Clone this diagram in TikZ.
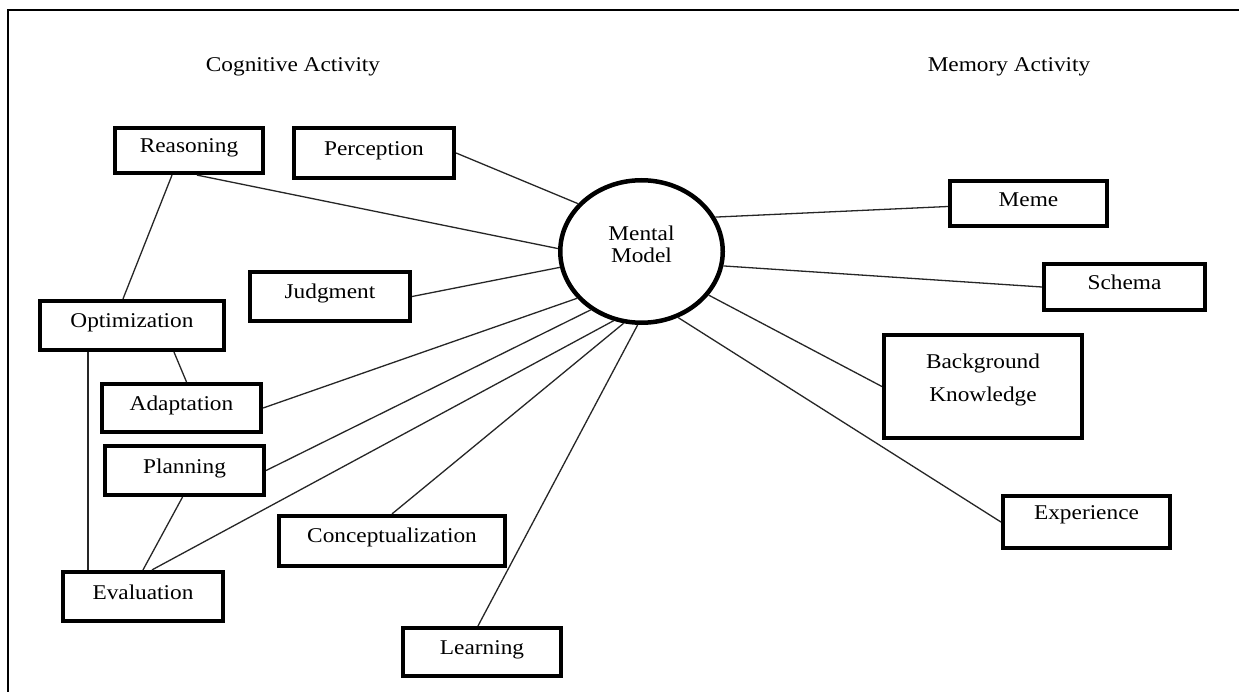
\documentclass[tikz,border=0pt]{standalone}
\usepackage{fontspec}
\setmainfont{Liberation Serif}[FakeStretch=1.11]
\usetikzlibrary{shapes.geometric}
\begin{document}
\begin{tikzpicture}[x=1pt,y=-1pt,
  every node/.style={font=\fontsize{21}{25}\selectfont},
  box/.style={draw, line width=4.2pt, inner sep=0pt, text height=14pt, text depth=9pt},
  link/.style={line width=1.3pt, black!85},
  frame/.style={line width=2.4pt},
  heading/.style={inner sep=0pt}]
\fill[white] (0,0) rectangle (1239,692);
\path[use as bounding box] (0,0) rectangle (1239,692);
\draw[frame] (8,692) -- (8,10) -- (1239,10);

\node[heading] (cog) at (293,67) {Cognitive Activity};
\node[heading] (mem) at (1009,67) {Memory Activity};

\node[ellipse, draw, line width=4.5pt, minimum width=162.5pt, minimum height=142.5pt, inner sep=0pt] (mm) at (641.5,251.5) {};
\node[align=center, font=\fontsize{21}{22}\selectfont, inner sep=0pt] (mmtext) at (641.5,244) {Mental\\Model};

\node[box, minimum width=148pt, minimum height=45pt] (reasoning) at (189,150.5) {Reasoning};
\node[box, minimum width=160pt, minimum height=50pt] (perception) at (374,153) {Perception};
\node[box, minimum width=160pt, minimum height=49pt] (judgment) at (330,296.5) {Judgment};
\node[box, minimum width=184pt, minimum height=49pt] (optimization) at (132,325.5) {Optimization};
\node[box, minimum width=159pt, minimum height=48pt] (adaptation) at (181.5,408) {Adaptation};
\node[box, minimum width=159pt, minimum height=49pt] (planning) at (184.5,470.5) {Planning};
\node[box, minimum width=226pt, minimum height=50pt, text depth=11pt] (concept) at (392,541) {Conceptualization};
\node[box, minimum width=160pt, minimum height=49pt] (evaluation) at (143,596.5) {Evaluation};
\node[box, minimum width=158pt, minimum height=48pt] (learning) at (482,652) {Learning};
\node[box, minimum width=157pt, minimum height=45pt, text depth=7pt] (meme) at (1028.5,203.5) {Meme};
\node[box, minimum width=161pt, minimum height=46pt] (schema) at (1124.5,287) {Schema};
\node[draw, line width=4.2pt, inner sep=0pt, minimum width=198pt, minimum height=103pt] (bk) at (983,386.5) {};
\node[align=center, font=\fontsize{21}{33}\selectfont, inner sep=0pt] (bktext) at (983,379.5) {Background\\Knowledge};
\node[box, minimum width=167pt, minimum height=52pt, text depth=19pt] (experience) at (1086.5,522) {Experience};

\draw[link] ([xshift=8pt]reasoning.south) -- (mm.178);
\draw[link] (perception.east) -- (mm.143);
\draw[link] (judgment.east) -- (mm.191);
\draw[link] ([xshift=-17pt]reasoning.south) -- ([xshift=-9pt]optimization.north);
\draw[link] ([xshift=42pt]optimization.south) -- ([xshift=5pt]adaptation.north);
\draw[link] ([xshift=-44pt]optimization.south) -- ([xshift=-55pt]evaluation.north);
\draw[link] (adaptation.east) -- (mm.216);
\draw[link] (planning.east) -- (mm.229);
\draw[link] ([xshift=-2pt]planning.south) -- (evaluation.north);
\draw[link] ([xshift=9pt]evaluation.north) -- (mm.248);
\draw[link] (concept.north) -- (mm.256);
\draw[link] ([xshift=-4pt]learning.north) -- (mm.267);
\draw[link] ([yshift=-3pt]meme.west) -- (mm.25);
\draw[link] (schema.west) -- (mm.350);
\draw[link] (bk.west) -- (mm.327);
\draw[link] (experience.west) -- (mm.299);
\end{tikzpicture}
\end{document}
